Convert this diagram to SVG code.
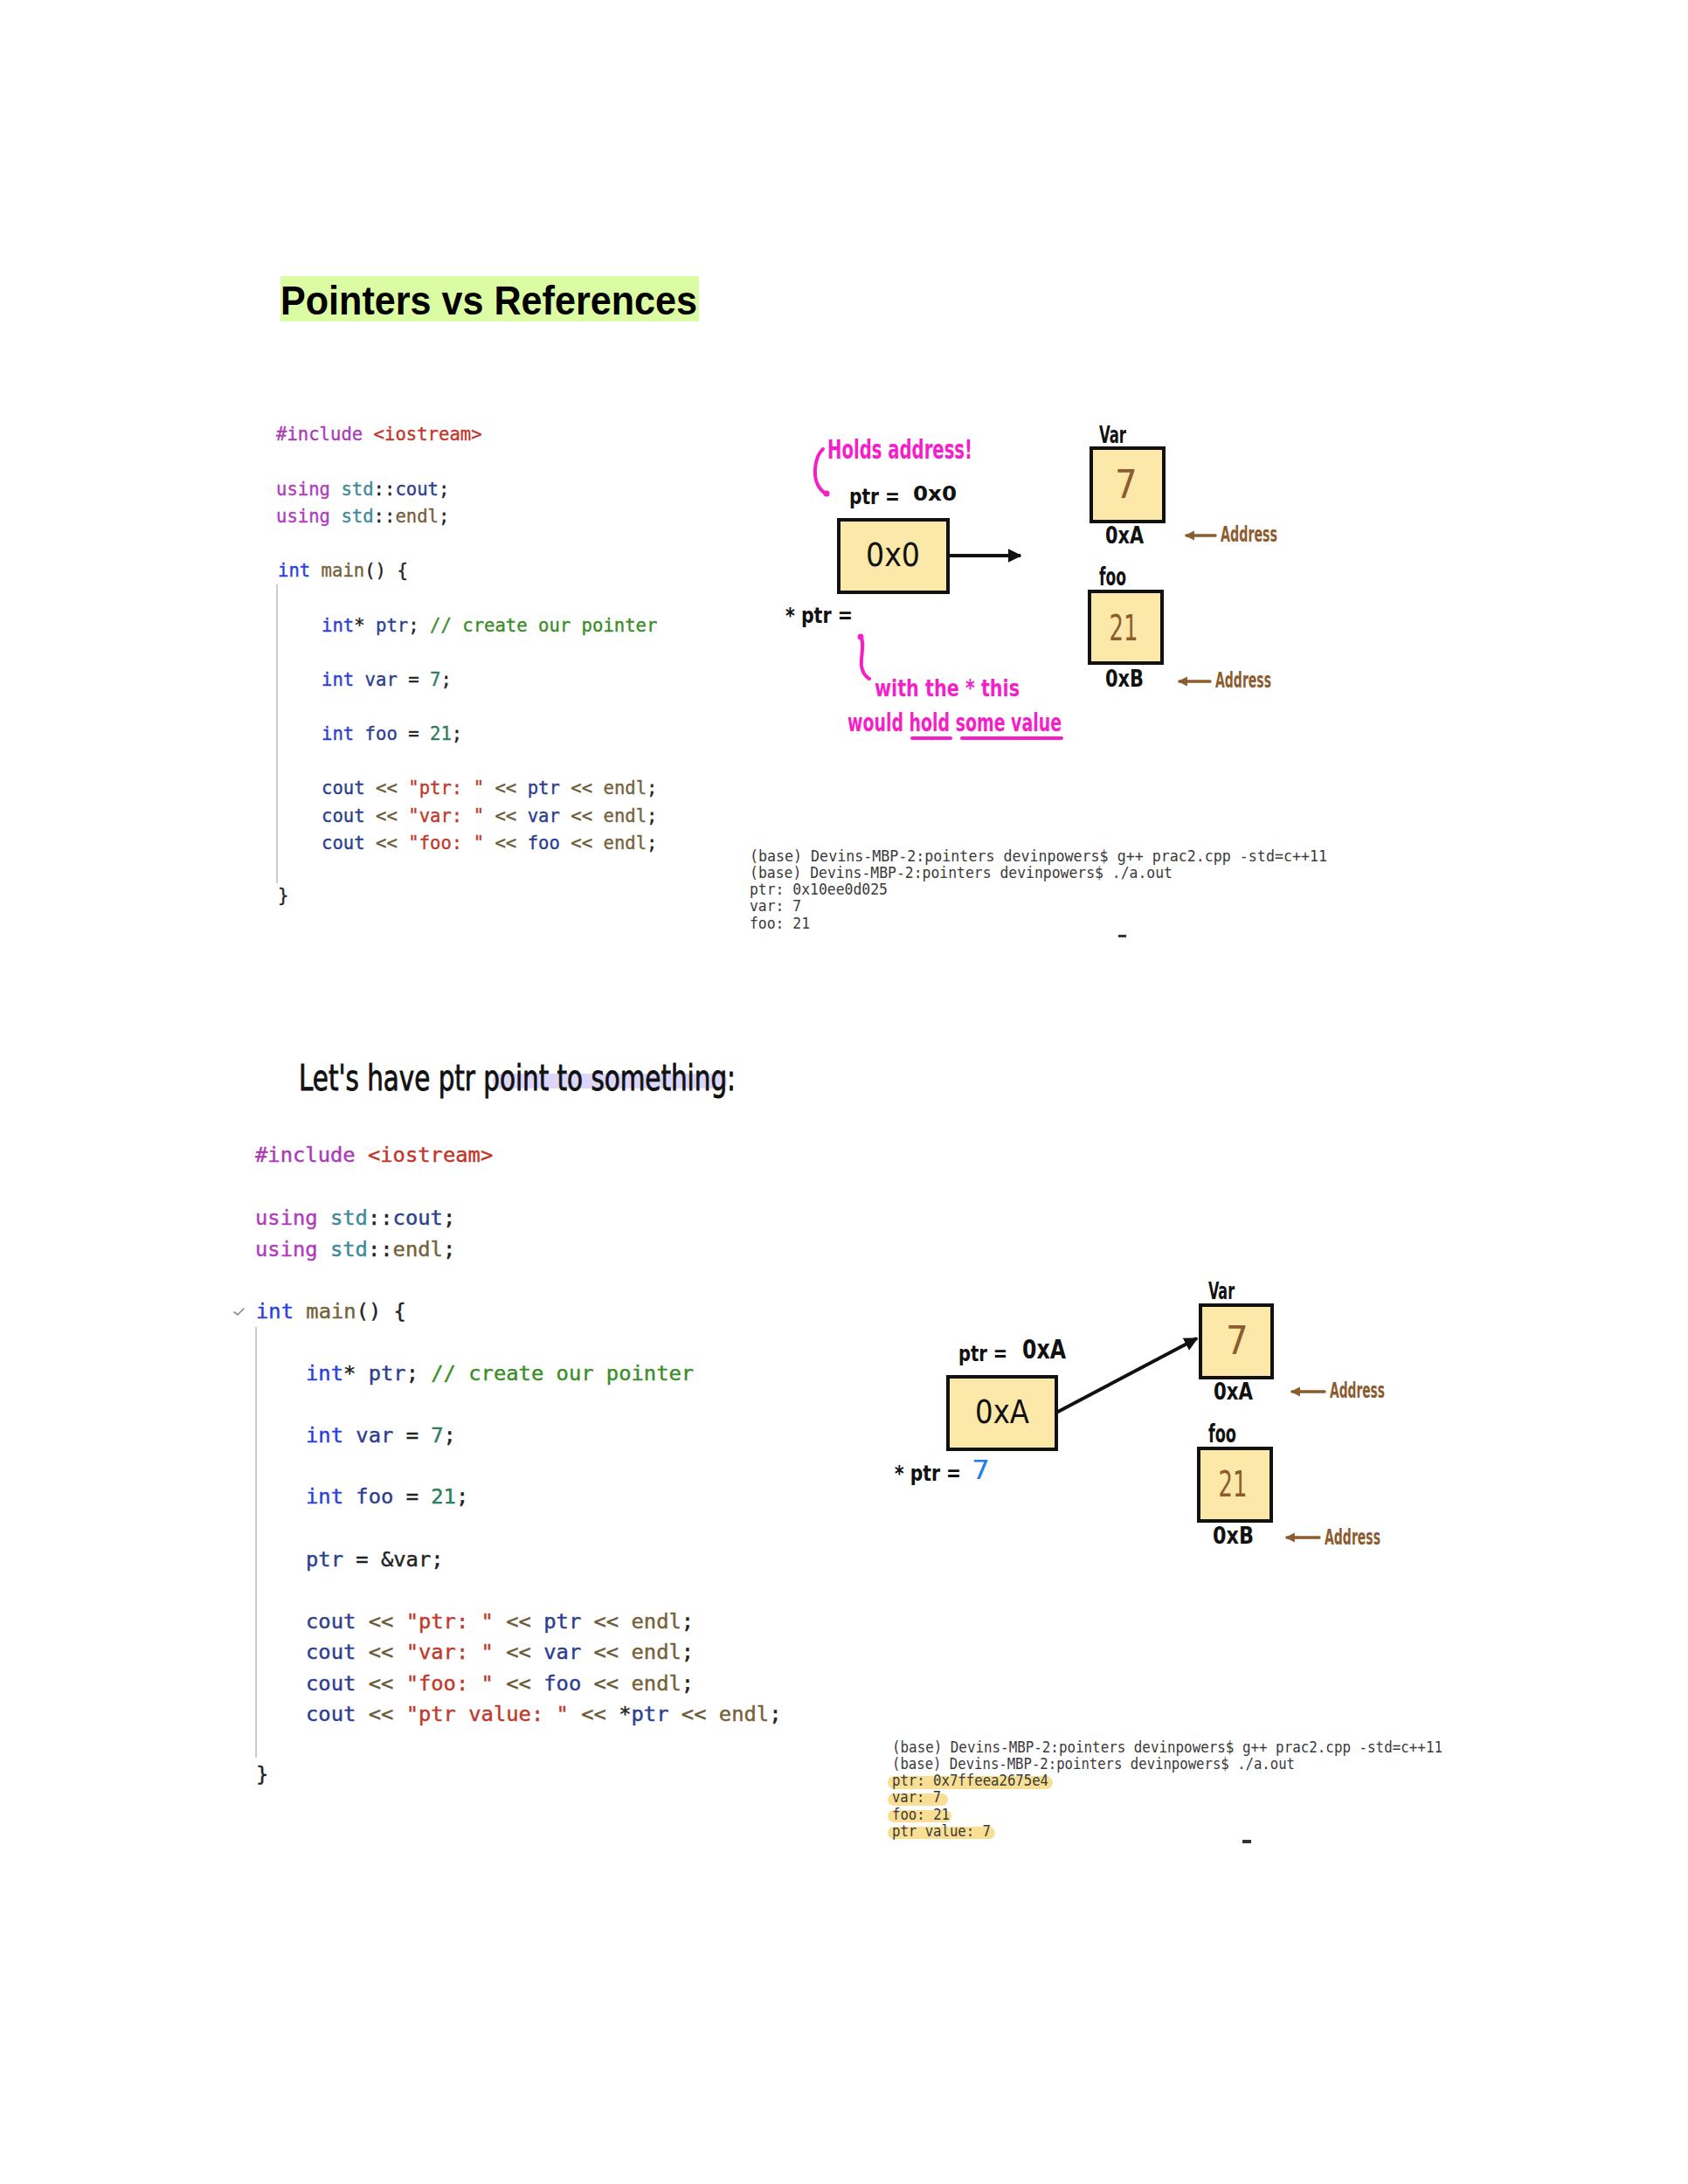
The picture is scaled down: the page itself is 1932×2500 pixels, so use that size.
<svg xmlns="http://www.w3.org/2000/svg" width="1932" height="2500" viewBox="0 0 1932 2500">
  <style>
    .code1 { font-family: "DejaVu Sans Mono", "Liberation Mono", monospace; font-size: 20.6px; stroke-width: 0.35px; }
    .code2 { font-family: "DejaVu Sans Mono", "Liberation Mono", monospace; font-size: 23.8px; stroke-width: 0.4px; }
    .term { font-family: "DejaVu Sans Mono", "Liberation Mono", monospace; fill: #3a3a3a; }
    .t1 { font-size: 17.5px; }
    .t2 { font-size: 17px; }
    .pp { fill: #a93cb4; stroke: #a93cb4; }
    .inc { fill: #c2352a; stroke: #c2352a; }
    .kw { fill: #b03cbc; stroke: #b03cbc; }
    .ns { fill: #3e8a99; stroke: #3e8a99; }
    .ty { fill: #2a3ee0; stroke: #2a3ee0; }
    .fn { fill: #75623a; stroke: #75623a; }
    .id { fill: #2c3e8f; stroke: #2c3e8f; }
    .op { fill: #6b5a36; stroke: #6b5a36; }
    .str { fill: #c0392b; stroke: #c0392b; }
    .num { fill: #2e7d5b; stroke: #2e7d5b; }
    .cm { fill: #3a8d27; stroke: #3a8d27; }
    .pl { fill: #222222; stroke: #222222; }
    .hand { font-family: "DejaVu Sans Condensed", "DejaVu Sans", sans-serif; font-weight: bold; fill: #111111; }
    .handthin { font-family: "DejaVu Sans Condensed", "DejaVu Sans", sans-serif; fill: #111111; }
    .pink { fill: #f51ec8; }
    .brown { fill: #8c5c2e; }
    .box { fill: #fce9a9; stroke: #111111; stroke-width: 4; }
    .guide { stroke: #cccccc; stroke-width: 2; }
    .addr { stroke: #8c5c2e; stroke-width: 3.5; stroke-linecap: round; fill: none; }
    .pinkline { stroke: #f51ec8; stroke-width: 4; stroke-linecap: round; fill: none; }
    .ptrline { stroke: #111111; stroke-width: 4; fill: none; }
    .hl { fill: #f8df93; }
  </style>
  <defs>
    <marker id="headBlack" viewBox="0 0 10 10" refX="9" refY="5" markerWidth="4" markerHeight="4.5" orient="auto" markerUnits="strokeWidth">
      <path d="M0,0 L10,5 L0,10 Z" fill="#111111"/>
    </marker>
    <marker id="headBrown" viewBox="0 0 10 10" refX="8" refY="5" markerWidth="3.2" markerHeight="3.2" orient="auto" markerUnits="strokeWidth">
      <path d="M0,0 L10,5 L0,10 Z" fill="#8c5c2e"/>
    </marker>
  </defs>

  <rect width="1932" height="2500" fill="#ffffff"/>

  <!-- Title -->
  <g id="title">
    <rect x="321" y="316" width="479" height="52" fill="#dcfca4"/>
    <text x="321" y="360" font-family="'Liberation Sans', Arial, sans-serif" font-weight="bold" font-size="46" fill="#000000" textLength="477" lengthAdjust="spacingAndGlyphs">Pointers vs References</text>
  </g>

  <!-- First program -->
  <g id="code-1">
    <line class="guide" x1="317" y1="669" x2="317" y2="1011"/>
    <text class="code1" x="316" y="504"><tspan class="pp">#include</tspan> <tspan class="inc">&lt;iostream&gt;</tspan></text>
    <text class="code1" x="316" y="567"><tspan class="kw">using</tspan> <tspan class="ns">std</tspan><tspan class="pl">::</tspan><tspan class="id">cout</tspan><tspan class="pl">;</tspan></text>
    <text class="code1" x="316" y="598"><tspan class="kw">using</tspan> <tspan class="ns">std</tspan><tspan class="pl">::</tspan><tspan class="fn">endl</tspan><tspan class="pl">;</tspan></text>
    <text class="code1" x="318" y="660"><tspan class="ty">int</tspan> <tspan class="fn">main</tspan><tspan class="pl">() {</tspan></text>
    <text class="code1" x="368" y="723"><tspan class="ty">int</tspan><tspan class="pl">*</tspan> <tspan class="id">ptr</tspan><tspan class="pl">;</tspan> <tspan class="cm">// create our pointer</tspan></text>
    <text class="code1" x="368" y="785"><tspan class="ty">int</tspan> <tspan class="id">var</tspan> <tspan class="pl">=</tspan> <tspan class="num">7</tspan><tspan class="pl">;</tspan></text>
    <text class="code1" x="368" y="847"><tspan class="ty">int</tspan> <tspan class="id">foo</tspan> <tspan class="pl">=</tspan> <tspan class="num">21</tspan><tspan class="pl">;</tspan></text>
    <text class="code1" x="368" y="909"><tspan class="id">cout</tspan> <tspan class="op">&lt;&lt;</tspan> <tspan class="str">"ptr: "</tspan> <tspan class="op">&lt;&lt;</tspan> <tspan class="id">ptr</tspan> <tspan class="op">&lt;&lt;</tspan> <tspan class="fn">endl</tspan><tspan class="pl">;</tspan></text>
    <text class="code1" x="368" y="941"><tspan class="id">cout</tspan> <tspan class="op">&lt;&lt;</tspan> <tspan class="str">"var: "</tspan> <tspan class="op">&lt;&lt;</tspan> <tspan class="id">var</tspan> <tspan class="op">&lt;&lt;</tspan> <tspan class="fn">endl</tspan><tspan class="pl">;</tspan></text>
    <text class="code1" x="368" y="972"><tspan class="id">cout</tspan> <tspan class="op">&lt;&lt;</tspan> <tspan class="str">"foo: "</tspan> <tspan class="op">&lt;&lt;</tspan> <tspan class="id">foo</tspan> <tspan class="op">&lt;&lt;</tspan> <tspan class="fn">endl</tspan><tspan class="pl">;</tspan></text>
    <text class="code1" x="318" y="1032"><tspan class="pl">}</tspan></text>
  </g>

  <!-- First memory sketch -->
  <g id="ptr-box-1">
    <text class="hand" x="972" y="577" font-size="24" textLength="58" lengthAdjust="spacingAndGlyphs">ptr =</text>
    <text class="hand" x="1045" y="573" font-size="23" textLength="50" lengthAdjust="spacingAndGlyphs">0x0</text>
    <rect class="box" x="960" y="595" width="125" height="83"/>
    <text class="handthin" x="991" y="648" font-size="38" textLength="62" lengthAdjust="spacingAndGlyphs">0x0</text>
    <text class="hand" x="899" y="713" font-size="25" textLength="77" lengthAdjust="spacingAndGlyphs">* ptr =</text>
  </g>
  <g id="var-box-1">
    <text class="hand" x="1258" y="507" font-size="27" textLength="31" lengthAdjust="spacingAndGlyphs">Var</text>
    <rect class="box" x="1249" y="513" width="83" height="84"/>
    <text class="handthin brown" x="1289" y="570" font-size="45" text-anchor="middle">7</text>
    <text class="hand" x="1265" y="622" font-size="27" textLength="44" lengthAdjust="spacingAndGlyphs">0xA</text>
    <text class="hand brown" x="1397" y="620" font-size="24" textLength="65" lengthAdjust="spacingAndGlyphs">Address</text>
  </g>
  <g id="foo-box-1">
    <text class="hand" x="1258" y="670" font-size="28" textLength="31" lengthAdjust="spacingAndGlyphs">foo</text>
    <rect class="box" x="1247" y="677" width="83" height="82"/>
    <text class="handthin brown" x="1286" y="733" font-size="41" text-anchor="middle" textLength="33" lengthAdjust="spacingAndGlyphs">21</text>
    <text class="hand" x="1265" y="786" font-size="27" textLength="44" lengthAdjust="spacingAndGlyphs">0xB</text>
    <text class="hand brown" x="1391" y="787" font-size="24" textLength="64" lengthAdjust="spacingAndGlyphs">Address</text>
  </g>
  <g id="notes-1">
    <text class="hand pink" x="947" y="525" font-size="30" textLength="166" lengthAdjust="spacingAndGlyphs">Holds address!</text>
    <text class="hand pink" x="1001" y="797" font-size="26" textLength="166" lengthAdjust="spacingAndGlyphs">with the * this</text>
    <text class="hand pink" x="970" y="837" font-size="28" textLength="245" lengthAdjust="spacingAndGlyphs">would hold some value</text>
    <line class="pinkline" x1="1044" y1="845" x2="1088" y2="845"/>
    <line class="pinkline" x1="1101" y1="845" x2="1215" y2="845"/>
  </g>

  <!-- First terminal output -->
  <g id="terminal-1" class="term t1">
    <text x="858" y="986" textLength="661" lengthAdjust="spacingAndGlyphs">(base) Devins-MBP-2:pointers devinpowers$ g++ prac2.cpp -std=c++11</text>
    <text x="858" y="1005" textLength="484" lengthAdjust="spacingAndGlyphs">(base) Devins-MBP-2:pointers devinpowers$ ./a.out</text>
    <text x="858" y="1024" textLength="158" lengthAdjust="spacingAndGlyphs">ptr: 0x10ee0d025</text>
    <text x="858" y="1043" textLength="59" lengthAdjust="spacingAndGlyphs">var: 7</text>
    <text x="858" y="1063" textLength="69" lengthAdjust="spacingAndGlyphs">foo: 21</text>
    <rect x="1280" y="1070" width="9" height="3" fill="#333333"/>
  </g>

  <!-- Heading for the second part -->
  <g id="subheading">
    <rect x="564" y="1229" width="268" height="17" rx="8" fill="#dcd6fb"/>
    <text class="handthin" x="342" y="1248" font-size="40" stroke="#111111" stroke-width="0.8" textLength="500" lengthAdjust="spacingAndGlyphs">Let's have ptr point to something:</text>
  </g>

  <!-- Second program -->
  <g id="code-2">
    <line class="guide" x1="293" y1="1519" x2="293" y2="2012"/>
    <polyline points="268,1502 272,1505 279,1498" fill="none" stroke="#888888" stroke-width="1.6" stroke-linecap="round"/>
    <text class="code2" x="292" y="1330"><tspan class="pp">#include</tspan> <tspan class="inc">&lt;iostream&gt;</tspan></text>
    <text class="code2" x="292" y="1402"><tspan class="kw">using</tspan> <tspan class="ns">std</tspan><tspan class="pl">::</tspan><tspan class="id">cout</tspan><tspan class="pl">;</tspan></text>
    <text class="code2" x="292" y="1438"><tspan class="kw">using</tspan> <tspan class="ns">std</tspan><tspan class="pl">::</tspan><tspan class="fn">endl</tspan><tspan class="pl">;</tspan></text>
    <text class="code2" x="293" y="1509"><tspan class="ty">int</tspan> <tspan class="fn">main</tspan><tspan class="pl">() {</tspan></text>
    <text class="code2" x="350" y="1580"><tspan class="ty">int</tspan><tspan class="pl">*</tspan> <tspan class="id">ptr</tspan><tspan class="pl">;</tspan> <tspan class="cm">// create our pointer</tspan></text>
    <text class="code2" x="350" y="1651"><tspan class="ty">int</tspan> <tspan class="id">var</tspan> <tspan class="pl">=</tspan> <tspan class="num">7</tspan><tspan class="pl">;</tspan></text>
    <text class="code2" x="350" y="1721"><tspan class="ty">int</tspan> <tspan class="id">foo</tspan> <tspan class="pl">=</tspan> <tspan class="num">21</tspan><tspan class="pl">;</tspan></text>
    <text class="code2" x="350" y="1793"><tspan class="id">ptr</tspan> <tspan class="pl">= &amp;var;</tspan></text>
    <text class="code2" x="350" y="1864"><tspan class="id">cout</tspan> <tspan class="op">&lt;&lt;</tspan> <tspan class="str">"ptr: "</tspan> <tspan class="op">&lt;&lt;</tspan> <tspan class="id">ptr</tspan> <tspan class="op">&lt;&lt;</tspan> <tspan class="fn">endl</tspan><tspan class="pl">;</tspan></text>
    <text class="code2" x="350" y="1899"><tspan class="id">cout</tspan> <tspan class="op">&lt;&lt;</tspan> <tspan class="str">"var: "</tspan> <tspan class="op">&lt;&lt;</tspan> <tspan class="id">var</tspan> <tspan class="op">&lt;&lt;</tspan> <tspan class="fn">endl</tspan><tspan class="pl">;</tspan></text>
    <text class="code2" x="350" y="1935"><tspan class="id">cout</tspan> <tspan class="op">&lt;&lt;</tspan> <tspan class="str">"foo: "</tspan> <tspan class="op">&lt;&lt;</tspan> <tspan class="id">foo</tspan> <tspan class="op">&lt;&lt;</tspan> <tspan class="fn">endl</tspan><tspan class="pl">;</tspan></text>
    <text class="code2" x="350" y="1970"><tspan class="id">cout</tspan> <tspan class="op">&lt;&lt;</tspan> <tspan class="str">"ptr value: "</tspan> <tspan class="op">&lt;&lt;</tspan> <tspan class="pl">*</tspan><tspan class="id">ptr</tspan> <tspan class="op">&lt;&lt;</tspan> <tspan class="fn">endl</tspan><tspan class="pl">;</tspan></text>
    <text class="code2" x="293" y="2039"><tspan class="pl">}</tspan></text>
  </g>

  <!-- Second memory sketch -->
  <g id="ptr-box-2">
    <text class="hand" x="1097" y="1558" font-size="24" textLength="56" lengthAdjust="spacingAndGlyphs">ptr =</text>
    <text class="hand" x="1170" y="1555" font-size="30" textLength="50" lengthAdjust="spacingAndGlyphs">0xA</text>
    <rect class="box" x="1085" y="1576" width="124" height="83"/>
    <text class="handthin" x="1116" y="1629" font-size="38" textLength="62" lengthAdjust="spacingAndGlyphs">0xA</text>
    <text class="hand" x="1024" y="1695" font-size="25" textLength="76" lengthAdjust="spacingAndGlyphs">* ptr =</text>
    <text class="handthin" x="1112" y="1693" font-size="30" style="fill:#1e7ef0" textLength="21" lengthAdjust="spacingAndGlyphs">7</text>
  </g>
  <g id="var-box-2">
    <text class="hand" x="1383" y="1487" font-size="27" textLength="30" lengthAdjust="spacingAndGlyphs">Var</text>
    <rect class="box" x="1374" y="1494" width="82" height="83"/>
    <text class="handthin brown" x="1416" y="1550" font-size="45" text-anchor="middle">7</text>
    <text class="hand" x="1389" y="1602" font-size="27" textLength="45" lengthAdjust="spacingAndGlyphs">0xA</text>
    <text class="hand brown" x="1522" y="1600" font-size="24" textLength="63" lengthAdjust="spacingAndGlyphs">Address</text>
  </g>
  <g id="foo-box-2">
    <text class="hand" x="1383" y="1651" font-size="28" textLength="32" lengthAdjust="spacingAndGlyphs">foo</text>
    <rect class="box" x="1372" y="1658" width="83" height="83"/>
    <text class="handthin brown" x="1411" y="1713" font-size="41" text-anchor="middle" textLength="33" lengthAdjust="spacingAndGlyphs">21</text>
    <text class="hand" x="1388" y="1767" font-size="27" textLength="47" lengthAdjust="spacingAndGlyphs">0xB</text>
    <text class="hand brown" x="1516" y="1768" font-size="24" textLength="64" lengthAdjust="spacingAndGlyphs">Address</text>
  </g>

  <!-- Second terminal output -->
  <g id="terminal-2" class="term t2">
    <rect class="hl" x="1016" y="2033" width="189" height="15" rx="7.5"/>
    <rect class="hl" x="1016" y="2053" width="69" height="14" rx="7"/>
    <rect class="hl" x="1016" y="2072" width="73" height="14" rx="7"/>
    <rect class="hl" x="1016" y="2091" width="123" height="14" rx="7"/>
    <text x="1021" y="2006" textLength="630" lengthAdjust="spacingAndGlyphs">(base) Devins-MBP-2:pointers devinpowers$ g++ prac2.cpp -std=c++11</text>
    <text x="1021" y="2025" textLength="461" lengthAdjust="spacingAndGlyphs">(base) Devins-MBP-2:pointers devinpowers$ ./a.out</text>
    <text x="1021" y="2044" textLength="179" lengthAdjust="spacingAndGlyphs">ptr: 0x7ffeea2675e4</text>
    <text x="1021" y="2063" textLength="56" lengthAdjust="spacingAndGlyphs">var: 7</text>
    <text x="1021" y="2083" textLength="66" lengthAdjust="spacingAndGlyphs">foo: 21</text>
    <text x="1021" y="2102" textLength="113" lengthAdjust="spacingAndGlyphs">ptr value: 7</text>
    <rect x="1422" y="2106" width="10" height="4" fill="#333333"/>
  </g>

  <!-- Connectors -->
  <g id="connectors">
    <line class="ptrline" x1="1085" y1="636" x2="1168" y2="636" marker-end="url(#headBlack)"/>
    <line class="ptrline" x1="1209" y1="1617" x2="1370" y2="1532" marker-end="url(#headBlack)"/>
    <line class="addr" x1="1391" y1="613" x2="1358" y2="613" marker-end="url(#headBrown)"/>
    <line class="addr" x1="1385" y1="780" x2="1350" y2="780" marker-end="url(#headBrown)"/>
    <line class="addr" x1="1516" y1="1593" x2="1479" y2="1593" marker-end="url(#headBrown)"/>
    <line class="addr" x1="1510" y1="1760" x2="1473" y2="1760" marker-end="url(#headBrown)"/>
    <path class="pinkline" d="M942,514 C933,522 930,543 936,555 C939,561 943,564 947,566"/>
    <circle cx="946" cy="565" r="3.5" fill="#f51ec8"/>
    <path class="pinkline" d="M985,728 C990,737 985,750 986,762 C987,770 990,774 995,777"/>
    <circle cx="985" cy="729" r="3.5" fill="#f51ec8"/>
  </g>
</svg>
